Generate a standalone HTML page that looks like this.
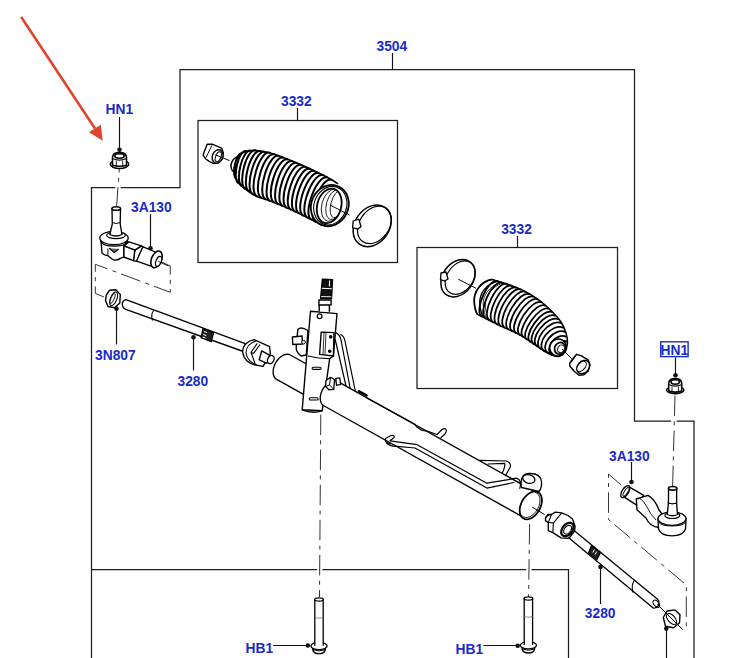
<!DOCTYPE html>
<html><head><meta charset="utf-8">
<style>
html,body{margin:0;padding:0;background:#fff;}
svg{display:block;}
.lb{font-family:"Liberation Sans",sans-serif;font-weight:bold;font-size:13.8px;fill:#1a2bc6;}
</style></head><body>
<svg width="730" height="658" viewBox="0 0 730 658">
<g fill="none" stroke="#1e1e1e" stroke-width="1.25">
<polyline points="91.5,658 91.5,187.5 180,187.5 180,69.5 634.5,69.5 634.5,421 694,421 694,658"/>
<polyline points="91.5,569.5 568.5,569.5 568.5,658"/>
<rect x="198" y="120.5" width="199.5" height="142"/>
<rect x="417" y="247.5" width="200.5" height="141"/>
</g>
<g fill="#fff" stroke="none">
<rect x="115.3" y="185.3" width="5.4" height="4.4"/>
<rect x="671.2" y="418.8" width="5.4" height="4.4"/>
<rect x="317" y="567.3" width="5.4" height="4.4"/>
<rect x="526.2" y="567.3" width="5.4" height="4.4"/>
</g>
<g fill="none" stroke="#333" stroke-width="1" stroke-dasharray="20.5,5.3,4,5.3">
<line x1="116.5" y1="207.5" x2="119.3" y2="169"/>
<line x1="675" y1="395.5" x2="672.6" y2="487"/>
<line x1="320.8" y1="414.5" x2="319.5" y2="597"/>
<line x1="529.6" y1="524" x2="528.6" y2="597"/>
<polyline points="159.5,261 170.3,266 170.3,292.3 95.3,264.3 95.3,293.4 104,297"/>
<polyline points="621.2,485 608.5,474 608.5,519.5 686.3,585 686.3,631.4"/>
</g>
<g fill="#fff" stroke="#000" stroke-width="1.55" stroke-linejoin="round">
<ellipse cx="119.50" cy="164.20" rx="9.20" ry="4.30"/>
<path d="M112.50,165.20 L112.50,157.10 C112.80,153.40 116.50,152.60 119.50,152.60 C122.50,152.60 126.20,153.40 126.50,157.10 L126.50,165.20 Q119.50,167.20 112.50,165.20 Z"/>
<ellipse cx="119.50" cy="156.00" rx="4.70" ry="2.2" stroke-width="1.6"/>
<path d="M112.90,158.80 Q119.50,161.40 126.10,158.80" fill="none" stroke-width="1.1"/>
<path d="M116.30,160.60 L116.30,166.70 M122.70,160.60 L122.70,166.70" fill="none" stroke-width="0.9"/>
</g>
<g fill="#fff" stroke="#000" stroke-width="1.55" stroke-linejoin="round">
<ellipse cx="675.20" cy="390.10" rx="8.70" ry="3.50"/>
<path d="M668.70,391.10 L668.70,383.10 C669.00,379.40 672.20,378.60 675.20,378.60 C678.20,378.60 681.40,379.40 681.70,383.10 L681.70,391.10 Q675.20,393.10 668.70,391.10 Z"/>
<ellipse cx="675.20" cy="382.00" rx="4.20" ry="2.2" stroke-width="1.6"/>
<path d="M669.10,384.80 Q675.20,387.40 681.30,384.80" fill="none" stroke-width="1.1"/>
<path d="M672.00,386.60 L672.00,392.60 M678.40,386.60 L678.40,392.60" fill="none" stroke-width="0.9"/>
</g>
<g fill="#fff" stroke="#000" stroke-width="1.35" stroke-linejoin="round">
<path d="M142.6,246.7 L155.5,252 L151.7,266.4 L136,260.8 Z"/>
<path d="M134.8,250.1 L141.4,245.9 L142.8,246.8 L136.4,261.3 L133.5,260.7 Z"/>
<path d="M123.7,245.9 L128.9,241.9 L141.4,245.9 L134.8,250.1 Z"/>
<path d="M123.7,245.9 L134.8,250.1 L133.5,260.7 L123.7,257 Z"/>
<path d="M101,241 L101.3,244.6 L102,253.1 Q104,255.2 107.9,255.7 L112,259 Q114,260.5 116.5,260 Q119,259.5 120.4,258.4 L123.7,257 L123.7,245.9 L128,242 Z"/>
<path d="M107.9,248.5 L107.9,255.7" fill="none" stroke-width="1"/>
<path d="M109.2,248.3 L114.4,252.6 L118.6,249" fill="#666" stroke-width="1.2"/>
<ellipse cx="156.5" cy="259.4" rx="5" ry="8.8" transform="rotate(22 156.5 259.4)" stroke-width="1.6"/>
<ellipse cx="158.6" cy="261.3" rx="2.6" ry="5.2" transform="rotate(22 158.6 261.3)" stroke-width="1.2"/>
<ellipse cx="114" cy="238" rx="14.2" ry="6.7"/>
<path d="M100.5,241 Q103,246.2 114,246.2 Q125,246.2 128,241" fill="none" stroke-width="1.2"/>
<ellipse cx="116" cy="235.3" rx="9.4" ry="3.3" stroke-width="1.1"/>
<path d="M109.8,234.5 L112.3,224 L112,208.5 L120.5,208.5 L120.2,224 L122,234.5 Q116,237.5 109.8,234.5 Z"/>
<path d="M112.2,222.5 Q116,224.5 120.3,222.5" fill="none" stroke-width="1"/>
<ellipse cx="116.25" cy="208.5" rx="4.25" ry="1.8" stroke-width="1.6"/>
<line x1="158.5" y1="261.5" x2="168.5" y2="266" stroke-width="0.9"/>
</g>
<g fill="#fff" stroke="#000" stroke-width="1.4" stroke-linejoin="round">
<path d="M106.3,295 L109.5,290.3 L115.8,289.8 L120.3,294.5 L119.8,303 L114.5,307.7 L108,306.5 L105.5,300.5 Z"/>
<ellipse cx="113.6" cy="298.8" rx="3.2" ry="7.2" transform="rotate(22 113.6 298.8)" fill="none" stroke-width="1"/>
<ellipse cx="112.6" cy="298.4" rx="1.6" ry="5.5" transform="rotate(22 112.6 298.4)" fill="none" stroke-width="0.8"/>
</g>
<g fill="#fff" stroke="#000" stroke-width="1.35" stroke-linejoin="round">
<path d="M125.9,299.7 L244.6,343.4 C247,346 245,350 242,351 L126.5,309.6 C121,308 121,301 125.9,299.7 Z"/>
<path d="M153.5,310.5 Q150.5,315 152.5,320.5" fill="none" stroke-width="1.1"/>
<path d="M203,328.6 L213.6,332.6 L211.3,341.8 L201,337.8 Z" fill="#222" stroke-width="1.2"/>
<path d="M204,331.5 L207,332.6 M203.3,334.5 L206.3,335.6 M202.6,337 L205.6,338.1" stroke="#fff" stroke-width="1"/>
<path d="M254.1,339.6 C247,341 242.3,346 242.7,352 C243.5,359 249,364 254.8,364.8 L263.1,366.4 L270.4,353.6 L269.5,346.6 Z"/>
<path d="M256.8,340.6 C250.5,342.5 246,347 246,352.5 C246.5,358.5 251,363.5 257.3,365.3" fill="none" stroke-width="1.1"/>
<path d="M257.3,343.4 L251,352.3 L255.4,364.8 M259.9,344.6 L253.6,353.4 M251,352.3 L253.6,353.4" fill="none" stroke-width="1.1"/>
<path d="M261.8,350.8 L269.8,355.3 L267,363.4 L259.2,359.8 Z"/>
<ellipse cx="270.8" cy="359.6" rx="3.1" ry="4.3" transform="rotate(28 270.8 359.6)"/>
</g>
<g fill="#fff" stroke="#000" stroke-width="1.4" stroke-linejoin="round">
<path d="M207.2,144.3 L212.7,144.3 L221.6,148.1 L223.3,153 L222.2,159.3 L218.1,162.7 L214.1,163.6 L209.5,161.6 L205.5,158.7 L203.2,155.3 L203.8,153 Z"/>
<path d="M211.8,145.5 L206,157.6" fill="none" stroke-width="1"/>
<ellipse cx="217.6" cy="156.4" rx="5.2" ry="6.9" transform="rotate(22 217.6 156.4)"/>
<ellipse cx="218.3" cy="156.8" rx="2.6" ry="5.2" transform="rotate(22 218.3 156.8)" stroke-width="1"/>
<line x1="215.3" y1="154.7" x2="229.6" y2="160.7" stroke-width="1"/>
</g>
<ellipse cx="237.5" cy="164.5" rx="6.2" ry="8.2" transform="rotate(24.5 237.5 164.5)" fill="#fff" stroke="#000" stroke-width="1.5"/>
<path d="M240.50,154.50 L242.02,153.61 L243.53,152.71 L245.05,151.82 L246.64,151.16 L248.40,151.05 L250.15,150.93 L251.91,150.81 L253.67,150.70 L255.42,150.58 L257.17,150.60 L258.90,150.91 L260.64,151.23 L262.37,151.54 L264.10,151.85 L265.83,152.16 L267.57,152.47 L269.30,152.78 L271.01,153.19 L272.66,153.79 L274.31,154.40 L275.97,155.00 L277.62,155.61 L279.27,156.21 L280.93,156.81 L282.58,157.42 L284.23,158.02 L285.89,158.63 L287.54,159.23 L289.19,159.84 L290.85,160.44 L292.46,161.14 L294.08,161.84 L295.69,162.55 L297.30,163.25 L298.92,163.96 L300.53,164.66 L302.14,165.37 L303.75,166.07 L305.37,166.78 L306.98,167.48 L308.59,168.19 L310.21,168.89 L311.82,169.61 L313.39,170.40 L314.96,171.19 L316.53,171.98 L318.11,172.77 L319.68,173.56 L321.25,174.35 L322.83,175.14 L324.40,175.93 L325.97,176.72 L327.54,177.51 L329.12,178.30 L330.68,179.12 L332.14,180.09 L333.61,181.07 L335.07,182.05 L336.54,183.02 L338.00,184.00 L322.00,225.50 L320.55,224.67 L319.10,223.84 L317.63,223.04 L316.15,222.25 L314.67,221.47 L313.19,220.69 L311.72,219.90 L310.24,219.12 L308.74,218.38 L307.24,217.63 L305.74,216.89 L304.24,216.14 L302.75,215.40 L301.25,214.66 L299.75,213.91 L298.25,213.17 L296.75,212.42 L295.23,211.73 L293.71,211.04 L292.18,210.35 L290.66,209.66 L289.14,208.97 L287.61,208.28 L286.09,207.59 L284.56,206.90 L283.04,206.21 L281.49,205.57 L279.94,204.95 L278.39,204.33 L276.83,203.70 L275.28,203.08 L273.73,202.46 L272.18,201.84 L270.62,201.21 L269.07,200.59 L267.49,200.04 L265.91,199.48 L264.34,198.93 L262.76,198.38 L261.18,197.82 L259.60,197.27 L258.02,196.72 L256.44,196.16 L254.93,195.48 L253.55,194.54 L252.16,193.59 L250.78,192.65 L249.40,191.71 L248.02,190.77 L246.64,189.82 L245.25,188.88 L243.93,187.87 L242.69,186.75 L241.45,185.62 L240.21,184.50 L238.97,183.38 L237.86,182.16 L237.24,180.61 L236.62,179.05 L236.00,177.50Z" fill="#fff" stroke="none"/>
<path d="M242.32,153.43 C236.20,150.67 230.63,176.61 236.75,179.36 M246.52,151.17 C238.90,147.74 231.27,179.87 238.88,183.30 M251.31,150.85 C242.86,147.05 233.82,182.56 242.27,186.37 M256.11,150.53 C246.87,146.37 236.56,185.09 245.79,189.25 M260.84,151.26 C251.14,146.89 239.86,187.45 249.57,191.82 M265.57,152.11 C255.43,147.54 243.19,189.82 253.34,194.40 M270.30,152.96 C259.84,148.25 246.89,191.77 257.36,196.49 M274.83,154.58 C264.37,149.87 251.21,193.28 261.67,198.00 M279.34,156.23 C268.90,151.53 255.54,194.80 265.98,199.51 M283.85,157.89 C273.42,153.18 259.83,196.37 270.27,201.07 M288.37,159.54 C277.90,154.82 264.04,198.05 274.51,202.77 M292.83,161.30 C282.37,156.58 268.27,199.75 278.74,204.47 M297.24,163.23 C286.80,158.52 272.54,201.48 282.98,206.18 M301.64,165.15 C291.20,160.44 276.70,203.36 287.14,208.06 M306.05,167.07 C295.59,162.36 280.85,205.24 291.30,209.95 M310.45,169.00 C299.99,164.28 285.00,207.12 295.46,211.83 M314.77,171.09 C304.32,166.38 289.11,209.11 299.57,213.82 M319.07,173.25 C308.62,168.55 293.22,211.15 303.66,215.85 M323.36,175.41 C312.93,170.71 297.32,213.18 307.75,217.88 M327.65,177.57 C317.22,172.87 301.39,215.26 311.82,219.96 M331.85,179.90 C321.44,175.21 305.45,217.41 315.85,222.10" fill="none" stroke="#000" stroke-width="2.00"/>
<path d="M240.50,154.50 C241.43,153.95 243.42,151.87 246.10,151.20 C248.78,150.53 252.53,150.20 256.60,150.50 C260.67,150.80 264.77,151.33 270.50,153.00 C276.23,154.67 284.15,157.75 291.00,160.50 C297.85,163.25 305.02,166.42 311.60,169.50 C318.18,172.58 326.10,176.58 330.50,179.00 C334.90,181.42 336.75,183.17 338.00,184.00 M236.00,177.50 C236.33,178.33 236.60,180.70 238.00,182.50 C239.40,184.30 241.50,186.08 244.40,188.30 C247.30,190.52 251.28,193.75 255.40,195.80 C259.52,197.85 264.53,198.88 269.10,200.60 C273.67,202.32 278.23,204.15 282.80,206.10 C287.37,208.05 291.93,210.13 296.50,212.30 C301.07,214.47 306.53,217.23 310.20,219.10 C313.87,220.97 316.53,222.43 318.50,223.50 C320.47,224.57 321.42,225.17 322.00,225.50" fill="none" stroke="#000" stroke-width="1.50" stroke-linejoin="round"/>
<defs><clipPath id="opL"><ellipse cx="329.2" cy="205.9" rx="12" ry="17.6" transform="rotate(15 329.2 205.9)"/></clipPath></defs>
<g fill="#fff" stroke="#000" stroke-width="1.8">
<ellipse cx="329.8" cy="205.6" rx="18.5" ry="21" transform="rotate(25 329.8 205.6)"/>
<ellipse cx="330.3" cy="205.7" rx="16.2" ry="19.6" transform="rotate(20 330.3 205.7)" fill="none" stroke-width="1.1"/>
<ellipse cx="329.2" cy="205.9" rx="12" ry="17.6" transform="rotate(15 329.2 205.9)" stroke-width="1.8"/>
<g fill="none" stroke-width="0.8" clip-path="url(#opL)"><ellipse cx="331.80" cy="205.30" rx="10.00" ry="16.40" transform="rotate(15 331.80 205.30)"/><ellipse cx="334.40" cy="204.70" rx="8.00" ry="15.20" transform="rotate(15 334.40 204.70)"/><ellipse cx="337.00" cy="204.10" rx="6.00" ry="14.00" transform="rotate(15 337.00 204.10)"/></g>
<line x1="330" y1="205" x2="349.5" y2="215" stroke-width="1"/>
</g>
<g fill="none" stroke="#000" stroke-width="1.5">
<ellipse cx="372.2" cy="225.8" rx="17.2" ry="22.4" transform="rotate(35 372.2 225.8)"/>
<ellipse cx="374.4" cy="224.9" rx="14.9" ry="20.4" transform="rotate(35 374.4 224.9)" stroke-width="1.2"/>
<path d="M353.2,221 L358.8,219.2 L361,226.5 L357.8,229 L352.6,227.8 Z" fill="#fff" stroke-width="1.3"/>
</g>
<g fill="none" stroke="#000" stroke-width="1.5">
<ellipse cx="458" cy="278.2" rx="15.2" ry="20.3" transform="rotate(35.8 458 278.2)"/>
<ellipse cx="460.2" cy="277.6" rx="13" ry="18.3" transform="rotate(35.8 460.2 277.6)" stroke-width="1.2"/>
<path d="M441,273 L446,272 L448,279 L444.5,281 L440.5,279.5 Z" fill="#fff" stroke-width="1.3"/>
<line x1="458.3" y1="279.2" x2="476" y2="288.3" stroke-width="1"/>
</g>
<path d="M492.10,279.50 L493.88,280.05 L495.65,280.59 L497.43,281.14 L499.20,281.69 L500.98,282.24 L502.75,282.78 L504.53,283.33 L506.31,283.88 L508.08,284.43 L509.80,285.12 L511.53,285.82 L513.25,286.51 L514.98,287.20 L516.70,287.89 L518.42,288.58 L520.15,289.28 L521.87,289.97 L523.57,290.72 L525.16,291.67 L526.76,292.63 L528.35,293.58 L529.94,294.54 L531.54,295.49 L533.13,296.45 L534.73,297.40 L536.32,298.36 L537.92,299.31 L539.37,300.46 L540.76,301.69 L542.15,302.92 L543.54,304.15 L544.93,305.39 L546.32,306.62 L547.71,307.85 L549.11,309.08 L550.50,310.31 L551.89,311.55 L553.16,312.89 L554.38,314.30 L555.59,315.71 L556.80,317.12 L558.01,318.52 L559.22,319.93 L560.43,321.34 L561.41,322.90 L562.18,324.59 L562.95,326.28 L563.72,327.98 L564.49,329.67 L565.25,331.36 L566.01,333.05 L566.30,334.89 L566.58,336.73 L566.87,338.56 L567.16,340.40 L567.44,342.23 L567.18,344.05 L566.79,345.87 L566.39,347.68 L566.00,349.50 L563.00,354.50 L561.52,355.15 L560.03,355.79 L558.55,356.44 L556.98,356.17 L555.40,355.80 L553.83,355.43 L552.25,355.06 L550.79,354.37 L549.35,353.63 L547.91,352.89 L546.48,352.14 L545.04,351.40 L543.60,350.65 L542.23,349.79 L540.89,348.89 L539.54,347.99 L538.20,347.09 L536.85,346.19 L535.50,345.29 L534.16,344.39 L532.81,343.49 L531.46,342.59 L530.12,341.69 L528.77,340.79 L527.43,339.89 L526.08,338.99 L524.73,338.10 L523.39,337.20 L522.04,336.30 L520.70,335.40 L519.23,334.71 L517.76,334.02 L516.30,333.34 L514.83,332.65 L513.37,331.96 L511.90,331.27 L510.43,330.59 L508.97,329.90 L507.50,329.21 L506.04,328.52 L504.57,327.84 L503.11,327.15 L501.64,326.46 L500.17,325.77 L498.71,325.09 L497.25,324.37 L495.81,323.65 L494.36,322.92 L492.91,322.19 L491.47,321.47 L490.02,320.74 L488.57,320.01 L487.13,319.29 L485.68,318.56 L484.23,317.83 L482.79,317.11 L481.34,316.38 L479.89,315.65 L478.45,314.93 L477.00,314.20Z" fill="#fff" stroke="none"/>
<path d="M498.49,281.47 C489.01,276.13 472.73,311.48 482.21,316.82 M503.13,282.90 C493.45,277.45 476.31,313.27 485.98,318.71 M507.76,284.33 C497.89,278.77 479.89,315.05 489.76,320.61 M512.27,286.11 C502.30,280.50 483.56,316.89 493.54,322.51 M516.77,287.92 C506.70,282.25 487.24,318.73 497.31,324.40 M521.27,289.73 C511.12,284.01 490.97,320.50 501.13,326.22 M525.58,291.92 C515.45,286.22 494.83,322.31 504.95,328.01 M529.74,294.41 C519.72,288.77 498.76,324.16 508.78,329.81 M533.90,296.91 C523.98,291.32 502.69,326.02 512.60,331.60 M538.06,299.40 C528.24,293.87 506.61,327.87 516.43,333.40 M541.73,302.55 C532.22,297.19 510.74,329.83 520.26,335.19 M545.36,305.77 C536.02,300.51 514.47,332.21 523.81,337.47 M548.99,308.98 C539.81,303.81 518.14,334.65 527.32,339.82 M552.60,312.23 C542.92,306.78 521.16,336.72 530.83,342.17 M555.76,315.90 C545.34,310.03 523.92,338.65 534.35,344.52 M558.92,319.58 C547.82,313.33 526.76,340.62 537.86,346.86 M561.69,323.51 C550.15,317.01 529.84,342.71 541.37,349.21 M563.69,327.92 C552.22,321.46 533.52,344.92 544.99,351.38 M565.70,332.34 C554.57,326.07 537.62,347.05 548.75,353.32 M566.64,337.07 C556.49,331.36 542.40,349.42 552.55,355.13 M567.39,341.87 C558.95,337.12 548.23,351.34 556.66,356.09" fill="none" stroke="#000" stroke-width="1.75"/>
<path d="M492.10,279.50 C494.75,280.32 502.82,282.57 508.00,284.40 C513.18,286.23 518.13,287.97 523.20,290.50 C528.27,293.03 533.53,296.02 538.40,299.60 C543.27,303.18 548.63,308.27 552.40,312.00 C556.17,315.73 558.73,318.50 561.00,322.00 C563.27,325.50 564.92,329.57 566.00,333.00 C567.08,336.43 567.50,339.85 567.50,342.60 C567.50,345.35 566.25,348.35 566.00,349.50 M477.00,314.20 C480.52,315.97 490.82,321.27 498.10,324.80 C505.38,328.33 513.17,331.12 520.70,335.40 C528.23,339.68 538.08,347.23 543.30,350.50 C548.52,353.77 549.48,354.00 552.00,355.00 C554.52,356.00 556.57,356.58 558.40,356.50 C560.23,356.42 562.23,354.83 563.00,354.50" fill="none" stroke="#000" stroke-width="1.50" stroke-linejoin="round"/>
<g fill="#fff" stroke="#000" stroke-width="1.6">
<path d="M492.1,279.5 C481,281 473.5,292 474.2,302 C474.8,309 476,312.5 477.5,314.5" fill="none" stroke-width="1.8"/>
<path d="M497.5,281.3 C486,284 479,294 479.8,304 C480.3,310 481.5,314 483,316.8" fill="none" stroke-width="1.4"/>
<path d="M500.5,282.5 C489.5,286 482.5,295.5 483.2,305 C483.7,311 485,315 486.5,318.2" fill="none" stroke-width="0.8"/>
<path d="M502.5,283.2 C491.5,287 484.5,296.5 485.4,306 C485.8,312 487,316 488.5,319" fill="none" stroke-width="0.8"/>
<ellipse cx="558.1" cy="347.5" rx="8.3" ry="8.6" transform="rotate(31 558.1 347.5)"/>
<ellipse cx="560" cy="348.3" rx="5.3" ry="6" transform="rotate(31 560 348.3)" stroke-width="1.8"/>
<ellipse cx="561" cy="348.8" rx="3.2" ry="4" transform="rotate(31 561 348.8)" stroke-width="1"/>
<line x1="562" y1="349" x2="571.7" y2="358.7" stroke-width="1"/>
</g>
<g fill="#fff" stroke="#000" stroke-width="1.4" stroke-linejoin="round">
<path d="M576.6,354.3 L581.5,355.8 L588.3,360.2 L590,365 L588.3,370.9 L583.9,374.8 L579,375.2 L574.2,371.3 L569.8,366 L569.8,363.1 L571.7,360.2 Z"/>
<path d="M576.6,354.3 L571,362.5" fill="none" stroke-width="1"/>
<ellipse cx="583.2" cy="367" rx="5.6" ry="7.3" transform="rotate(40 583.2 367)"/>
<ellipse cx="581.6" cy="366.4" rx="3.6" ry="6" transform="rotate(40 581.6 366.4)" stroke-width="1.1"/>
</g>
<g fill="#fff" stroke="#000" stroke-width="1.35" stroke-linejoin="round">
<path d="M290.33,354.98 L325.25,374.49 L311.59,398.94 L276.67,379.42 Z" stroke="none"/>
<path d="M290.33,354.98 L289.02,354.45 L287.58,354.23 L286.03,354.33 L284.43,354.74 L282.80,355.47 L281.19,356.48 L279.63,357.76 L278.17,359.27 L276.84,360.97 L275.68,362.83 L274.71,364.79 L273.95,366.82 L273.43,368.85 L273.16,370.85 L273.14,372.75 L273.38,374.52 L273.86,376.10 L274.59,377.47 L275.53,378.59 L276.67,379.42"/>
<path d="M290.33,354.98 L325.25,374.49 M276.67,379.42 L311.59,398.94" fill="none"/>
</g>
<g fill="none" stroke="#000" stroke-width="1.2" stroke-linejoin="round" stroke-linecap="round">
<path d="M335,332.1 C339,334 340.5,337 341,340 L350.5,390 M340.8,334.5 C343.5,336 344.5,338 345,341 L355.5,392 M335.2,339.5 L346.5,388"/>
</g>
<g fill="#fff" stroke="#000" stroke-width="1.4" stroke-linejoin="round">
<path d="M297.8,329.4 Q301,326 307.9,330.5 L306.3,355 L301,356 Q296,352 296.2,347.5 Z"/>
<path d="M292.4,337 L302,336 L302.5,344 L292.8,344.5 Z"/>
<circle cx="303.6" cy="342.2" r="1.8" stroke-width="1"/>
<path d="M310.5,311.2 L337,313.6 L333.4,356 L329.7,358.7 L322.2,410.8 L302.2,409.8 Z"/>
<path d="M302.2,409.8 Q312,414 322.2,410.8" fill="none"/>
<path d="M307.9,356 Q318,358.5 329.7,358.7" fill="none" stroke-width="1.2"/>
<circle cx="319.6" cy="316.2" r="2.4" stroke-width="1.2"/>
<path d="M321.2,332.1 L334,332.6 L333.4,356 L319.6,354.4 Z"/>
<path d="M324,333 L323,354.5 M326,333 L325,354.5" stroke-width="0.8" fill="none"/>
<circle cx="330.7" cy="336.9" r="1.1" fill="#000"/>
<circle cx="329.7" cy="351.3" r="1.1" fill="#000"/>
<rect x="312.1" y="367.2" width="9" height="2.2" rx="1.1" stroke-width="1.1"/>
<rect x="309.2" y="397.8" width="9" height="2.2" rx="1.1" stroke-width="1.1"/>
<path d="M319.2,311.5 L319.2,304.9 L329.4,304.9 L329.4,311.8" />
<path d="M318.9,300 L331.1,300 L331.1,304.9 L318.9,304.9 Z"/>
<path d="M320.6,298.6 L322.4,279.3 L332.5,279.6 L331.5,298.6 Z" fill="#111"/>
<path d="M329.6,280.5 L329.4,286.5" stroke="#fff" stroke-width="1.1"/>
<path d="M321.8,288.3 L331.8,288.7" stroke="#fff" stroke-width="1.1"/>
<path d="M321.2,296.5 L331.4,296.8" stroke="#fff" stroke-width="0.9"/>
</g>
<g fill="#fff" stroke="#000" stroke-width="1.35" stroke-linejoin="round">
<path d="M337.47,381.32 L537.63,493.19 L523.97,517.63 L323.81,405.77 Z" stroke="none"/>
<path d="M337.47,381.32 L336.16,380.79 L334.72,380.57 L333.17,380.67 L331.57,381.09 L329.94,381.81 L328.32,382.82 L326.77,384.10 L325.31,385.61 L323.98,387.32 L322.82,389.17 L321.84,391.14 L321.09,393.16 L320.57,395.20 L320.30,397.19 L320.28,399.09 L320.51,400.86 L321.00,402.45 L321.73,403.82 L322.67,404.93 L323.81,405.77"/>
<path d="M337.47,381.32 L537.63,493.19 M323.81,405.77 L523.97,517.63" fill="none"/>
<path d="M539.18,510.09 L540.32,507.75 L541.18,505.33 L541.72,502.92 L541.92,500.58 L541.79,498.39 L541.33,496.41 L540.54,494.71 L539.46,493.33 L538.12,492.32 L536.55,491.70 L534.81,491.50 L532.95,491.73 L531.02,492.37 L529.08,493.41 L527.20,494.81 L525.43,496.53 L523.82,498.52 L522.42,500.73 L521.28,503.07 L520.42,505.49 L519.88,507.90 L519.68,510.24 L519.81,512.43 L520.27,514.41 L521.06,516.11 L522.14,517.49 L523.48,518.50 L525.05,519.12 L526.79,519.32 L528.65,519.09 L530.58,518.45 L532.51,517.41 L534.40,516.01 L536.17,514.29 L537.78,512.30 L539.18,510.09Z" stroke-width="1.75"/>
<path d="M522.07,515.88 L523.63,516.97 L525.48,517.49 L527.55,517.41 L529.73,516.75 L531.91,515.52 L534.01,513.79 L535.91,511.64 L537.52,509.17 L538.78,506.50 L539.62,503.75 L539.99,501.06 L539.89,498.56 L539.32,496.35 L538.30,494.55 L536.89,493.25 L535.14,492.49" fill="none" stroke-width="0.9"/>
</g>
<line x1="532.2" y1="507" x2="544.6" y2="514.6" stroke="#000" stroke-width="1"/>
<g fill="#fff" stroke="#000" stroke-width="1.3" stroke-linejoin="round">
<path d="M326,380.5 L330.5,377.3 L334.5,379.5 L333.8,389.3 L329,389.8 L325.5,386.5 Z"/>
<path d="M330.5,377.3 L329.5,385 L333.8,389.3 M329.5,385 L325.5,386.5" fill="none" stroke-width="1"/>
<path d="M335.8,378.3 L339.8,377.8 L340.6,384.3 L336.5,385.3 Z"/>
<path d="M521.5,487.5 C520,478 523,473.8 529.5,473.5 C536,473.3 541,476 541.5,482 C542,487 540.5,489.5 539,491.5 Z"/>
<ellipse cx="528.8" cy="479" rx="6.2" ry="4.2" transform="rotate(15 528.8 479)"/>
</g>
<g fill="none" stroke="#000" stroke-width="1.2" stroke-linejoin="round" stroke-linecap="round">
<path d="M359,391.3 L366.5,395.4" stroke-width="2.6"/>
<path d="M366,397.5 L414.7,423.9 L416.4,426.8 L422.1,430.5 L427.9,431.3 L436.9,434.6" stroke-width="1.1"/>
<path d="M436.9,434.6 L442,429.5 Q445,427.5 446.3,430 Q446.8,432 444.5,434.5 L441,437.5"/>
<path d="M390.5,444 Q384.5,443 385.5,438.5 L390.5,435.8 Q394.5,434.5 394.2,437.5 L390,440.8 L417.1,444.7 L486.9,483.2 L516.4,478.2 Q520.8,479.5 520.5,485 L519.8,488.5"/>
<path d="M386.3,442.6 Q389,446.5 397.4,446.3 L415,448 L486.9,488.1 L514,482.5"/>
<path d="M479.5,460.3 L506.6,461 Q511.5,463 510.3,467 L505.4,475.8"/>
<path d="M488.1,464 L504.7,463.4 Q505.5,466 502.3,473.3"/>
</g>
<g fill="#fff" stroke="#000" stroke-width="1.35" stroke-linejoin="round">
<path d="M571.9,528.7 L657.6,599.2 C660.5,602 659,606.5 655.9,607.5 C655,608 654,608.2 653.2,608.1 L567.8,537 Z"/>
<path d="M634.3,580.5 Q631,585 633,592.5" fill="none" stroke-width="1.1"/>
<path d="M591.5,545.5 L600.5,552.5 L597,559.5 L588.5,553 Z" fill="#222" stroke-width="1.2"/>
<path d="M594.5,549.5 L592.8,552.5 M596.8,551.5 L595,554.5" stroke="#fff" stroke-width="1"/>
<ellipse cx="656.3" cy="603.8" rx="2.4" ry="4.2" transform="rotate(-40 656.3 603.8)" fill="none" stroke-width="1"/>
<path d="M545.5,518 L548,514.5 L551.5,514.5 L555.3,512.2 L561.7,512.9 L568,515.5 L572.5,519 L575.1,526.3 L574.5,531 L570,537 L567.5,538.4 L561.1,537.8 L552.8,532.7 L548.3,530.7 L548.3,522.4 L545.5,521 Z"/>
<path d="M551.5,514.5 L548.3,522.4 M561.7,512.9 L553.4,523 M548.3,522.4 L553.4,523 L552.8,532.7 M551.5,514.5 Q545,515 545.5,519.5 Q546,522 548.3,522.4" fill="none" stroke-width="1.1"/>
<path d="M571.30,532.66 L572.07,531.58 L572.70,530.45 L573.17,529.28 L573.46,528.12 L573.57,527.00 L573.49,525.96 L573.23,525.03 L572.79,524.23 L572.18,523.59 L571.43,523.14 L570.56,522.87 L569.59,522.81 L568.56,522.95 L567.49,523.29 L566.42,523.81 L565.37,524.51 L564.39,525.37 L563.50,526.34 L562.73,527.42 L562.10,528.55 L561.63,529.72 L561.34,530.88 L561.23,532.00 L561.31,533.04 L561.57,533.97 L562.01,534.77 L562.62,535.41 L563.37,535.86 L564.24,536.13 L565.21,536.19 L566.24,536.05 L567.31,535.71 L568.38,535.19 L569.43,534.49 L570.41,533.63 L571.30,532.66Z" stroke-width="2.2"/>
<path d="M570.11,531.74 L570.61,531.04 L571.02,530.31 L571.32,529.56 L571.51,528.81 L571.58,528.09 L571.53,527.42 L571.36,526.82 L571.07,526.30 L570.68,525.89 L570.20,525.60 L569.64,525.43 L569.01,525.38 L568.35,525.47 L567.66,525.69 L566.97,526.03 L566.29,526.49 L565.66,527.03 L565.09,527.66 L564.59,528.36 L564.18,529.09 L563.88,529.84 L563.69,530.59 L563.62,531.31 L563.67,531.98 L563.84,532.58 L564.13,533.10 L564.52,533.51 L565.00,533.80 L565.56,533.97 L566.19,534.02 L566.85,533.93 L567.54,533.71 L568.23,533.37 L568.91,532.91 L569.54,532.37 L570.11,531.74Z" stroke-width="1.1"/>
</g>
<g fill="#fff" stroke="#000" stroke-width="1.35" stroke-linejoin="round">
<path d="M627.4,485.8 L643.8,495.3 L636.3,504.9 L624.7,497.4 Z"/>
<path d="M636.3,499 L648,495.3 Q655,499 659,510 L665,518 L659,527.5 Q650,527 646,518 L637,509.7 Z"/>
<path d="M640,498.5 Q644,501 647,507 Q650,514 656,520" fill="none" stroke-width="0.9"/>
<ellipse cx="625.3" cy="491.6" rx="3.2" ry="6.8" transform="rotate(32 625.3 491.6)"/>
<ellipse cx="626" cy="491.9" rx="1.6" ry="5" transform="rotate(32 626 491.9)" stroke-width="0.9"/>
<path d="M658,518.6 L658.5,529 Q661,535.8 672,535.8 Q683,535.8 685.5,529 L686,518.6 Z"/>
<ellipse cx="672" cy="518.6" rx="14" ry="6.8"/>
<path d="M658.5,522 Q661,526 672,526 Q683,526 685.8,522" fill="none" stroke-width="1"/>
<ellipse cx="672.3" cy="515.5" rx="7.5" ry="3" stroke-width="1.1"/>
<path d="M667.3,514.5 L668.4,503 L676.6,503 L677.5,514.5 Q672.5,517 667.3,514.5 Z"/>
<path d="M668.4,503 L668.6,488.3 L676.7,488.3 L676.6,503" />
<path d="M668.4,503 Q672.5,505 676.6,503" fill="none" stroke-width="1"/>
<ellipse cx="672.65" cy="488.3" rx="4.15" ry="1.8" stroke-width="1.7"/>
</g>
<g fill="#fff" stroke="#000" stroke-width="1.4" stroke-linejoin="round">
<path d="M663.3,617.5 L667,611 L675,609.9 L680,614.8 L679.5,622.8 L673.5,627.8 L665.5,626.3 Z"/>
<ellipse cx="671.5" cy="619" rx="3.6" ry="6.6" transform="rotate(-42 671.5 619)" fill="none" stroke-width="1"/>
<line x1="657.5" y1="604.5" x2="682.7" y2="629.6" stroke-width="1"/>
</g>
<g fill="#fff" stroke="#000" stroke-width="1.3">
<path d="M312.80,645.70 L312.80,650.20 Q314.00,653.70 319.00,653.70 Q324.00,653.70 325.20,650.20 L325.20,645.70 Z"/>
<ellipse cx="319.00" cy="646.00" rx="8.1" ry="3.6"/>
<path d="M312.80,649.70 Q319.00,652.20 325.20,649.70" fill="none" stroke-width="1"/>
<path d="M314.80,645.70 L314.80,599.50 L323.20,599.50 L323.20,645.70" />
<ellipse cx="319.00" cy="599.50" rx="4.2" ry="1.6"/>
<path d="M314.80,617.50 Q319.00,619.00 323.20,617.50" fill="none" stroke-width="0.7" stroke="#666"/>
</g>
<g fill="#fff" stroke="#000" stroke-width="1.3">
<path d="M522.20,645.00 L522.20,649.50 Q523.40,653.00 528.40,653.00 Q533.40,653.00 534.60,649.50 L534.60,645.00 Z"/>
<ellipse cx="528.40" cy="645.30" rx="8.1" ry="3.6"/>
<path d="M522.20,649.00 Q528.40,651.50 534.60,649.00" fill="none" stroke-width="1"/>
<path d="M524.20,645.00 L524.20,598.50 L532.60,598.50 L532.60,645.00" />
<ellipse cx="528.40" cy="598.50" rx="4.2" ry="1.6"/>
<path d="M524.20,616.50 Q528.40,618.00 532.60,616.50" fill="none" stroke-width="0.7" stroke="#666"/>
</g>
<g stroke="#111" stroke-width="1.15" fill="none">
<line x1="392.5" y1="53" x2="392.5" y2="69.5"/>
<line x1="297.5" y1="108" x2="297.5" y2="120.5"/>
<line x1="517.5" y1="236" x2="517.5" y2="247.5"/>
<line x1="119.5" y1="117" x2="119.5" y2="149.5"/>
<line x1="675.5" y1="357.5" x2="675.5" y2="375"/>
<line x1="150.5" y1="214" x2="150.5" y2="248"/>
<line x1="631.5" y1="462" x2="631.5" y2="482"/>
<line x1="116.5" y1="308" x2="116.5" y2="344.5"/>
<line x1="193.5" y1="337" x2="193.5" y2="370.5"/>
<line x1="600.5" y1="567" x2="600.5" y2="604"/>
<line x1="273" y1="645.5" x2="307.8" y2="645.5"/>
<line x1="483.5" y1="645.5" x2="517.7" y2="645.5"/>
<line x1="666.5" y1="628.3" x2="666.5" y2="658"/>
</g>
<g fill="#111">
<circle cx="119.5" cy="149.7" r="2.3"/>
<circle cx="675.5" cy="375.3" r="2.3"/>
<circle cx="150.5" cy="248.3" r="2.3"/>
<circle cx="631.5" cy="482" r="2.3"/>
<circle cx="116.5" cy="308.8" r="2.3"/>
<circle cx="193.5" cy="337.2" r="2.3"/>
<circle cx="600.5" cy="567" r="2.3"/>
<circle cx="307.8" cy="645.5" r="2.3"/>
<circle cx="517.7" cy="645.7" r="2.3"/>
<circle cx="666.3" cy="628.6" r="2.3"/>
</g>
<text class="lb" x="376.5" y="50.8">3504</text>
<text class="lb" x="281.0" y="106">3332</text>
<text class="lb" x="501.2" y="234">3332</text>
<text class="lb" x="105.5" y="114.2">HN1</text>
<rect x="660.7" y="341.8" width="27.4" height="14.8" fill="none" stroke="#1a2bc6" stroke-width="1.4"/>
<text class="lb" x="660.5" y="354.5">HN1</text>
<text class="lb" x="131.0" y="212">3A130</text>
<text class="lb" x="609.0" y="460.5">3A130</text>
<text class="lb" x="95.0" y="360">3N807</text>
<text class="lb" x="177.5" y="385.5">3280</text>
<text class="lb" x="584.8" y="617.9">3280</text>
<text class="lb" x="245.5" y="652.7">HB1</text>
<text class="lb" x="455.5" y="653.5">HB1</text>
<line x1="21.2" y1="17" x2="95" y2="128.5" stroke="#df442d" stroke-width="2.6"/>
<polygon points="102.7,140.7 89,132.3 100.8,124.7" fill="#df442d"/>
</svg>
</body></html>
